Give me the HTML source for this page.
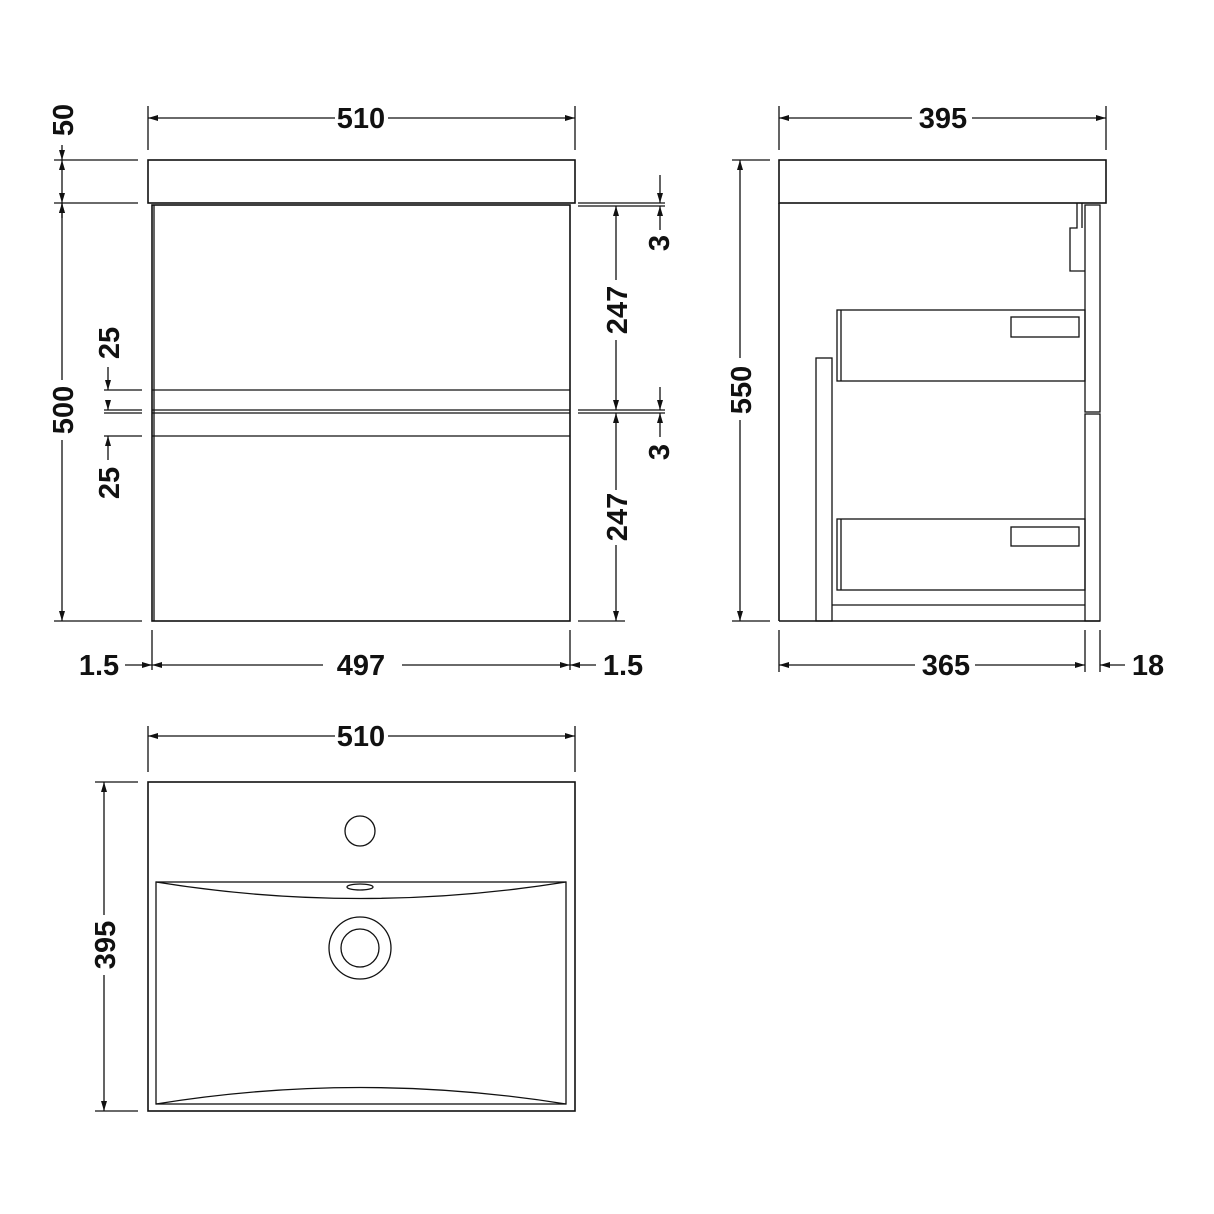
<!DOCTYPE html>
<html><head><meta charset="utf-8"><style>
html,body{margin:0;padding:0;background:#fff}
svg{display:block}
text{font-family:"Liberation Sans",sans-serif;font-weight:bold;font-size:29px;fill:#111}
</style></head><body>
<svg width="1214" height="1214" viewBox="0 0 1214 1214" xmlns="http://www.w3.org/2000/svg">
<defs>
<marker id="a" viewBox="0 0 10 6" refX="10" refY="3" markerWidth="10" markerHeight="6" markerUnits="userSpaceOnUse" orient="auto"><path d="M0,0 L10,3 L0,6 z" fill="#111"/></marker>
</defs>
<g stroke="#111" stroke-width="1.3" fill="none">
<!-- FRONT VIEW -->
<rect x="148" y="160" width="427" height="43" stroke-width="1.6"/>
<rect x="152" y="205" width="418" height="416" stroke-width="1.6"/>
<line x1="154" y1="205" x2="154" y2="621"/>
<line x1="152" y1="390" x2="570" y2="390"/>
<line x1="152" y1="410" x2="570" y2="410"/>
<line x1="152" y1="413" x2="570" y2="413"/>
<line x1="152" y1="436" x2="570" y2="436"/>
<!-- 510 top -->
<line x1="148" y1="106" x2="148" y2="150"/><line x1="575" y1="106" x2="575" y2="150"/>
<line x1="335" y1="118" x2="148" y2="118" marker-end="url(#a)"/>
<line x1="388" y1="118" x2="575" y2="118" marker-end="url(#a)"/>
<!-- 50 / 500 left -->
<line x1="54" y1="160" x2="138" y2="160"/><line x1="54" y1="203" x2="138" y2="203"/>
<line x1="54" y1="621" x2="142" y2="621"/>
<line x1="62" y1="145" x2="62" y2="160" marker-end="url(#a)"/>
<line x1="62" y1="218" x2="62" y2="203" marker-end="url(#a)"/>
<line x1="62" y1="180" x2="62" y2="160" marker-end="url(#a)"/>
<line x1="62" y1="180" x2="62" y2="203" marker-end="url(#a)"/>
<line x1="62" y1="380" x2="62" y2="203" marker-end="url(#a)"/>
<line x1="62" y1="440" x2="62" y2="621" marker-end="url(#a)"/>
<!-- 25 25 -->
<line x1="104" y1="390" x2="142" y2="390"/><line x1="104" y1="410" x2="142" y2="410"/>
<line x1="104" y1="413" x2="142" y2="413"/><line x1="104" y1="436" x2="142" y2="436"/>
<line x1="108" y1="367" x2="108" y2="390" marker-end="url(#a)"/>
<line x1="108" y1="400" x2="108" y2="410" marker-end="url(#a)"/>
<line x1="108" y1="460" x2="108" y2="436" marker-end="url(#a)"/>
<!-- right 247 / 3 -->
<line x1="578" y1="203" x2="665" y2="203"/><line x1="578" y1="206" x2="665" y2="206"/>
<line x1="578" y1="410" x2="665" y2="410"/><line x1="578" y1="413" x2="665" y2="413"/>
<line x1="616" y1="280" x2="616" y2="206" marker-end="url(#a)"/>
<line x1="616" y1="340" x2="616" y2="410" marker-end="url(#a)"/>
<line x1="616" y1="490" x2="616" y2="413" marker-end="url(#a)"/>
<line x1="616" y1="545" x2="616" y2="621" marker-end="url(#a)"/>
<line x1="578" y1="621" x2="625" y2="621"/>
<line x1="660" y1="175" x2="660" y2="203" marker-end="url(#a)"/>
<line x1="660" y1="230" x2="660" y2="206" marker-end="url(#a)"/>
<line x1="660" y1="387" x2="660" y2="410" marker-end="url(#a)"/>
<line x1="660" y1="437" x2="660" y2="413" marker-end="url(#a)"/>
<!-- bottom 1.5 497 1.5 -->
<line x1="152" y1="630" x2="152" y2="670"/><line x1="570" y1="630" x2="570" y2="670"/>
<line x1="125" y1="665" x2="152" y2="665" marker-end="url(#a)"/>
<line x1="323" y1="665" x2="152" y2="665" marker-end="url(#a)"/>
<line x1="402" y1="665" x2="570" y2="665" marker-end="url(#a)"/>
<line x1="596" y1="665" x2="570" y2="665" marker-end="url(#a)"/>
<!-- SIDE VIEW -->
<rect x="779" y="160" width="327" height="43" stroke-width="1.6"/>
<line x1="779" y1="203" x2="779" y2="621" stroke-width="1.6"/>
<line x1="779" y1="621" x2="1100" y2="621" stroke-width="1.6"/>
<rect x="1085" y="205" width="15" height="207"/>
<rect x="1085" y="414" width="15" height="207"/>
<path d="M1077,203 V228 H1070 V271 H1085"/>
<line x1="1082" y1="203" x2="1082" y2="228"/>
<rect x="837" y="310" width="248" height="71"/><line x1="841" y1="310" x2="841" y2="381"/>
<rect x="1011" y="317" width="68" height="20"/>
<rect x="837" y="519" width="248" height="71"/><line x1="841" y1="519" x2="841" y2="590"/>
<rect x="1011" y="527" width="68" height="19"/>
<rect x="816" y="358" width="16" height="263"/>
<line x1="832" y1="605" x2="1085" y2="605"/>
<!-- 395 top -->
<line x1="779" y1="106" x2="779" y2="150"/><line x1="1106" y1="106" x2="1106" y2="150"/>
<line x1="912" y1="118" x2="779" y2="118" marker-end="url(#a)"/>
<line x1="972" y1="118" x2="1106" y2="118" marker-end="url(#a)"/>
<!-- 550 -->
<line x1="732" y1="160" x2="770" y2="160"/><line x1="732" y1="621" x2="770" y2="621"/>
<line x1="740" y1="358" x2="740" y2="160" marker-end="url(#a)"/>
<line x1="740" y1="420" x2="740" y2="621" marker-end="url(#a)"/>
<!-- 365 18 -->
<line x1="779" y1="630" x2="779" y2="672"/><line x1="1085" y1="630" x2="1085" y2="672"/><line x1="1100" y1="630" x2="1100" y2="672"/>
<line x1="915" y1="665" x2="779" y2="665" marker-end="url(#a)"/>
<line x1="975" y1="665" x2="1085" y2="665" marker-end="url(#a)"/>
<line x1="1125" y1="665" x2="1100" y2="665" marker-end="url(#a)"/>
<!-- TOP VIEW -->
<rect x="148" y="782" width="427" height="329" stroke-width="1.6"/>
<rect x="156" y="882" width="410" height="222"/>
<path d="M156,882 Q360,915 566,882"/>
<path d="M156,1104 Q360,1071 566,1104"/>
<circle cx="360" cy="831" r="15"/>
<ellipse cx="360" cy="887" rx="13" ry="3"/>
<circle cx="360" cy="948" r="31"/>
<circle cx="360" cy="948" r="19"/>
<line x1="148" y1="726" x2="148" y2="772"/><line x1="575" y1="726" x2="575" y2="772"/>
<line x1="335" y1="736" x2="148" y2="736" marker-end="url(#a)"/>
<line x1="388" y1="736" x2="575" y2="736" marker-end="url(#a)"/>
<line x1="95" y1="782" x2="138" y2="782"/><line x1="95" y1="1111" x2="138" y2="1111"/>
<line x1="104" y1="915" x2="104" y2="782" marker-end="url(#a)"/>
<line x1="104" y1="975" x2="104" y2="1111" marker-end="url(#a)"/>
</g>
<g text-anchor="middle" dominant-baseline="central">
<text x="361" y="119">510</text>
<text x="943" y="119">395</text>
<text x="361" y="737">510</text>
<text x="361" y="666">497</text>
<text x="99" y="666">1.5</text>
<text x="623" y="666">1.5</text>
<text x="946" y="666">365</text>
<text x="1148" y="666">18</text>
<text transform="translate(64,120) rotate(-90)">50</text>
<text transform="translate(64,410) rotate(-90)">500</text>
<text transform="translate(110,343) rotate(-90)">25</text>
<text transform="translate(110,483) rotate(-90)">25</text>
<text transform="translate(618,310) rotate(-90)">247</text>
<text transform="translate(618,517) rotate(-90)">247</text>
<text transform="translate(660,243) rotate(-90)">3</text>
<text transform="translate(660,452) rotate(-90)">3</text>
<text transform="translate(742,390) rotate(-90)">550</text>
<text transform="translate(106,945) rotate(-90)">395</text>
</g>
</svg>
</body></html>
